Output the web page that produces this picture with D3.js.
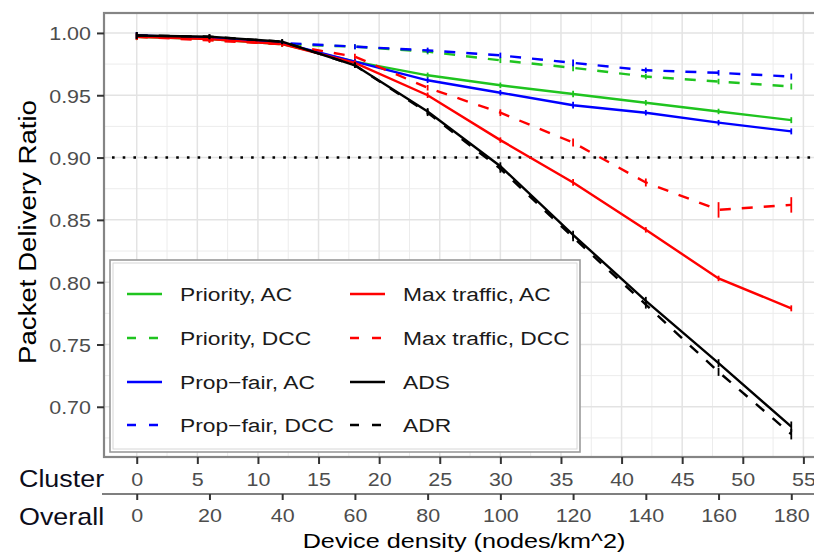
<!DOCTYPE html>
<html>
<head>
<meta charset="utf-8">
<script src="https://cdn.jsdelivr.net/npm/d3@7"></script>
<style>
  body { margin: 0; background: #fff; }
  svg text { font-family: "Liberation Sans", Arial, sans-serif; }
</style>
</head>
<body>
<div id="chart-area"></div>
<script>
// packet delivery ratio vs device density

// cluster density at each simulated point (overall = cluster * 10/3)
const cluster = [0, 6, 12, 18, 24, 30, 36, 42, 48, 54]

const prioAC  = [0.997, 0.995, 0.991, 0.977, 0.966, 0.958, 0.951, 0.944, 0.937, 0.930]
const prioDCC = [0.997, 0.995, 0.991, 0.989, 0.985, 0.978, 0.972, 0.965, 0.961, 0.957]
const propAC  = [0.998, 0.996, 0.992, 0.977, 0.962, 0.952, 0.942, 0.936, 0.928, 0.921]
const propDCC = [0.998, 0.996, 0.992, 0.989, 0.986, 0.982, 0.976, 0.970, 0.968, 0.965]
const maxAC   = [0.997, 0.995, 0.991, 0.976, 0.950, 0.914, 0.880, 0.842, 0.803, 0.779]
const maxDCC  = [0.997, 0.994, 0.991, 0.981, 0.956, 0.936, 0.912, 0.880, 0.858, 0.862]
const ads     = [0.998, 0.997, 0.993, 0.974, 0.937, 0.893, 0.838, 0.785, 0.735, 0.684]
const adr     = [0.998, 0.997, 0.993, 0.974, 0.936, 0.891, 0.836, 0.782, 0.728, 0.678]

// half-width of error bars
const errSmall = [0.0015, 0.0008, 0.0008, 0.0008, 0.001, 0.001, 0.0015, 0.001, 0.001, 0.0012]
const errMaxDCC = [0.0015, 0.0008, 0.0008, 0.001, 0.001, 0.0015, 0.002, 0.002, 0.005, 0.005]
const errAds = [0.0015, 0.0008, 0.0008, 0.001, 0.0015, 0.002, 0.002, 0.002, 0.002, 0.003]

const legendLabels = ["Priority, AC", "Priority, DCC", "Prop\u2212fair, AC", "Prop\u2212fair, DCC",
                      "Max traffic, AC", "Max traffic, DCC", "ADS", "ADR"]
const yTicks = [0.70, 0.75, 0.80, 0.85, 0.90, 0.95, 1.00]
const clusterTicks = [0, 5, 10, 15, 20, 25, 30, 35, 40, 45, 50, 55]
const overallTicks = [0, 20, 40, 60, 80, 100, 120, 140, 160, 180]

const series = [
  {name: legendLabels[0], values: prioAC,  err: errSmall,  color: "#1fc41f", dash: null},
  {name: legendLabels[1], values: prioDCC, err: errSmall,  color: "#1fc41f", dash: "11,11"},
  {name: legendLabels[2], values: propAC,  err: errSmall,  color: "#0000ff", dash: null},
  {name: legendLabels[3], values: propDCC, err: errSmall,  color: "#0000ff", dash: "11,11"},
  {name: legendLabels[4], values: maxAC,   err: errSmall,  color: "#ff0000", dash: null},
  {name: legendLabels[5], values: maxDCC,  err: errMaxDCC, color: "#ff0000", dash: "11,11"},
  {name: legendLabels[6], values: ads,     err: errAds,    color: "#000000", dash: null},
  {name: legendLabels[7], values: adr,     err: errAds,    color: "#000000", dash: "11,11"}
]

const W = 814, H = 553
const P = {LEFT: 104, RIGHT: 824, TOP: 13, BOTTOM: 457}

const svg = d3.select("#chart-area").append("svg")
    .attr("width", W)
    .attr("height", H)

const x = d3.scaleLinear().domain([-2.7, 56.7]).range([P.LEFT, P.RIGHT])
const xo = d3.scaleLinear().domain([-9, 189]).range([P.LEFT, P.RIGHT])
const y = d3.scaleLinear().domain([0.6597, 1.016]).range([P.BOTTOM, P.TOP])

// grid
const grid = svg.append("g")
const minorX = d3.range(2.5, 56, 5)
const minorY = d3.range(0.675, 1.0, 0.05)
grid.selectAll(".mx").data(minorX).enter().append("line")
    .attr("x1", d => x(d)).attr("x2", d => x(d))
    .attr("y1", P.TOP).attr("y2", P.BOTTOM)
    .attr("stroke", "#ececec").attr("stroke-width", 1)
grid.selectAll(".my").data(minorY).enter().append("line")
    .attr("x1", P.LEFT).attr("x2", P.RIGHT)
    .attr("y1", d => y(d)).attr("y2", d => y(d))
    .attr("stroke", "#ececec").attr("stroke-width", 1)
grid.selectAll(".Mx").data(clusterTicks).enter().append("line")
    .attr("x1", d => x(d)).attr("x2", d => x(d))
    .attr("y1", P.TOP).attr("y2", P.BOTTOM)
    .attr("stroke", "#e3e3e3").attr("stroke-width", 1.5)
grid.selectAll(".My").data(yTicks).enter().append("line")
    .attr("x1", P.LEFT).attr("x2", P.RIGHT)
    .attr("y1", d => y(d)).attr("y2", d => y(d))
    .attr("stroke", "#e3e3e3").attr("stroke-width", 1.5)

// 0.90 reference
svg.append("line")
    .attr("x1", P.LEFT + 8).attr("x2", W)
    .attr("y1", y(0.90)).attr("y2", y(0.90))
    .attr("stroke", "#000").attr("stroke-width", 2.6)
    .attr("stroke-dasharray", "2.6,8.1")

// lines
const line = d3.line()
    .x((d, i) => x(cluster[i]))
    .y(d => y(d))

const plot = svg.append("g")
series.forEach(s => {
  plot.append("path")
      .datum(s.values)
      .attr("d", line)
      .attr("fill", "none")
      .attr("stroke", s.color)
      .attr("stroke-width", 2.4)
      .attr("stroke-dasharray", s.dash)
  const eb = plot.append("g")
  s.values.forEach((v, i) => {
    const cx = x(cluster[i])
    eb.append("line")
        .attr("x1", cx).attr("x2", cx)
        .attr("y1", y(v - s.err[i]) + 1.5).attr("y2", y(v + s.err[i]) - 1.5)
        .attr("stroke", s.color).attr("stroke-width", 1.8)
  })
})

// panel border
svg.append("rect")
    .attr("x", P.LEFT).attr("y", P.TOP)
    .attr("width", P.RIGHT - P.LEFT).attr("height", P.BOTTOM - P.TOP)
    .attr("fill", "none")
    .attr("stroke", "#858585").attr("stroke-width", 2.2)

// y axis
const yAxisCall = d3.axisLeft(y)
    .tickValues(yTicks)
    .tickSize(7)
    .tickFormat(d3.format(".2f"))
const yAxis = svg.append("g")
    .attr("transform", `translate(${P.LEFT}, 0)`)
    .call(yAxisCall)
yAxis.select(".domain").remove()
yAxis.selectAll("line").attr("stroke", "#333").attr("stroke-width", 2)
yAxis.selectAll("text")
    .attr("x", null).attr("dy", "0.36em")
    .attr("transform", "translate(-13,0) scale(1.13,1)")
    .attr("font-size", "19px")
    .attr("fill", "#4d4d4d")

// cluster axis
const cAxisCall = d3.axisBottom(x).tickValues(clusterTicks).tickSize(7)
const cAxis = svg.append("g")
    .attr("transform", `translate(0, ${P.BOTTOM})`)
    .call(cAxisCall)
cAxis.select(".domain").remove()
cAxis.selectAll("line").attr("stroke", "#333").attr("stroke-width", 2)
cAxis.selectAll("text")
    .attr("y", null).attr("dy", null)
    .attr("transform", "translate(0,29) scale(1.13,1)")
    .attr("font-size", "19px")
    .attr("fill", "#4d4d4d")

// overall axis
svg.append("line")
    .attr("x1", 102).attr("x2", W)
    .attr("y1", 494).attr("y2", 494)
    .attr("stroke", "#555").attr("stroke-width", 1.5)
const oAxisCall = d3.axisBottom(xo).tickValues(overallTicks).tickSize(6)
const oAxis = svg.append("g")
    .attr("transform", "translate(0, 494)")
    .call(oAxisCall)
oAxis.select(".domain").remove()
oAxis.selectAll("line").attr("stroke", "#333").attr("stroke-width", 2)
oAxis.selectAll("text")
    .attr("y", null).attr("dy", null)
    .attr("transform", "translate(0,28) scale(1.13,1)")
    .attr("font-size", "19px")
    .attr("fill", "#4d4d4d")

// axis names
svg.append("text")
    .attr("transform", "translate(19,487) scale(1.12,1)")
    .attr("font-size", "24px")
    .attr("fill", "#0d0d1a")
    .text("Cluster")
svg.append("text")
    .attr("transform", "translate(19,525) scale(1.12,1)")
    .attr("font-size", "24px")
    .attr("fill", "#0d0d1a")
    .text("Overall")

svg.append("text")
    .attr("transform", "translate(464,548) scale(1.2,1)")
    .attr("text-anchor", "middle")
    .attr("font-size", "21px")
    .attr("fill", "#000")
    .text("Device density (nodes/km^2)")

svg.append("text")
    .attr("transform", "translate(36,232) rotate(-90) scale(1.15,1)")
    .attr("text-anchor", "middle")
    .attr("font-size", "24px")
    .attr("fill", "#000")
    .text("Packet Delivery Ratio")

// legend
const lg = svg.append("g")
lg.append("rect")
    .attr("x", 110).attr("y", 260).attr("width", 470).attr("height", 192)
    .attr("fill", "#fff").attr("stroke", "#9a9a9a").attr("stroke-width", 1.6)
lg.append("rect")
    .attr("x", 113).attr("y", 263).attr("width", 464).attr("height", 186)
    .attr("fill", "none").attr("stroke", "#d6d6d6").attr("stroke-width", 1)

const rowY = [294, 338, 382, 425]
series.forEach((s, i) => {
  const col = Math.floor(i / 4), row = i % 4
  const kx = col === 0 ? 127 : 350
  const ky = rowY[row]
  lg.append("line")
      .attr("x1", kx).attr("x2", kx + 35)
      .attr("y1", ky).attr("y2", ky)
      .attr("stroke", s.color).attr("stroke-width", 2.5)
      .attr("stroke-dasharray", s.dash ? "9,13" : null)
  lg.append("text")
      .attr("transform", `translate(${kx + 53},${ky + 6.5}) scale(1.2,1)`)
      .attr("font-size", "19px")
      .attr("fill", "#1a1a1a")
      .text(s.name)
})
</script>
</body>
</html>
